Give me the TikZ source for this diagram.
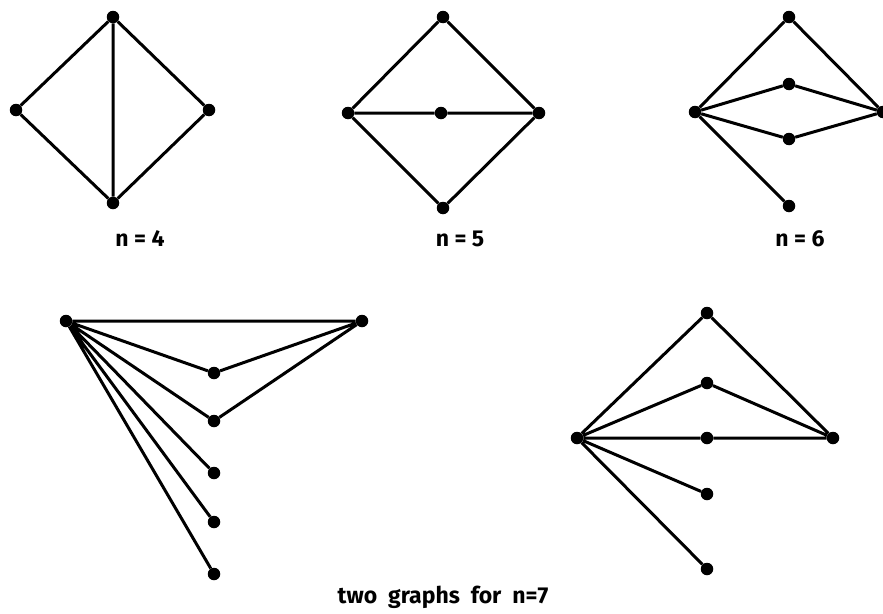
\documentclass[tikz,border=0pt]{standalone}
\usepackage{fontspec}
\setmainfont{Fira Sans}
\begin{document}
\begin{tikzpicture}[x=1pt,y=-1pt,
  vtx/.style={circle,fill=black,inner sep=0pt,minimum size=12.5pt},
  edge/.style={line width=3pt},
  lbl/.style={font=\bfseries\fontsize{23}{26}\selectfont}]
\useasboundingbox (0,0) rectangle (883,613);
\clip (0,0) rectangle (883,613);
% n=4
\node[vtx] (a1) at (113,17) {};
\node[vtx] (a2) at (16,110) {};
\node[vtx] (a3) at (209,110) {};
\node[vtx] (a4) at (113,203) {};
\draw[edge] (a1)--(a2) (a1)--(a3) (a1)--(a4) (a2)--(a4) (a3)--(a4);
\node[lbl] (l4) at (140,239) {n = 4};
% n=5
\node[vtx] (b1) at (443,17) {};
\node[vtx] (b2) at (348,113) {};
\node[vtx] (b3) at (441,113) {};
\node[vtx] (b4) at (539,113) {};
\node[vtx] (b5) at (443,208) {};
\draw[edge] (b1)--(b2) (b1)--(b4) (b2)--(b3) (b3)--(b4) (b2)--(b5) (b4)--(b5);
\node[lbl] (l5) at (460,239) {n = 5};
% n=6
\node[vtx] (c1) at (789,17) {};
\node[vtx] (c2) at (695,112) {};
\node[vtx] (c3) at (789,84) {};
\node[vtx] (c4) at (789,139) {};
\node[vtx] (c5) at (883,112) {};
\node[vtx] (c6) at (789,206) {};
\draw[edge] (c2)--(c1) (c1)--(c5) (c2)--(c3) (c3)--(c5) (c2)--(c4) (c4)--(c5) (c2)--(c6);
\node[lbl] (l6) at (800,239) {n = 6};
% n=7 first
\node[vtx] (d1) at (66,321) {};
\node[vtx] (d2) at (362,321) {};
\node[vtx] (d3) at (214,373) {};
\node[vtx] (d4) at (214,421) {};
\node[vtx] (d5) at (214,473) {};
\node[vtx] (d6) at (214,522) {};
\node[vtx] (d7) at (214,574) {};
\draw[edge] (d1)--(d2) (d1)--(d3) (d3)--(d2) (d1)--(d4) (d4)--(d2) (d1)--(d5) (d1)--(d6) (d1)--(d7);
% n=7 second
\node[vtx] (e1) at (577,438) {};
\node[vtx] (e2) at (707,313) {};
\node[vtx] (e3) at (707,383) {};
\node[vtx] (e4) at (707,438) {};
\node[vtx] (e5) at (833,438) {};
\node[vtx] (e6) at (707,494) {};
\node[vtx] (e7) at (707,569) {};
\draw[edge] (e1)--(e2) (e2)--(e5) (e1)--(e3) (e3)--(e5) (e1)--(e4) (e4)--(e5) (e1)--(e6) (e1)--(e7);
\node[lbl] (l7) at (443,597) {two\ \ graphs\ \ for\ \ n=7};
\end{tikzpicture}
\end{document}
